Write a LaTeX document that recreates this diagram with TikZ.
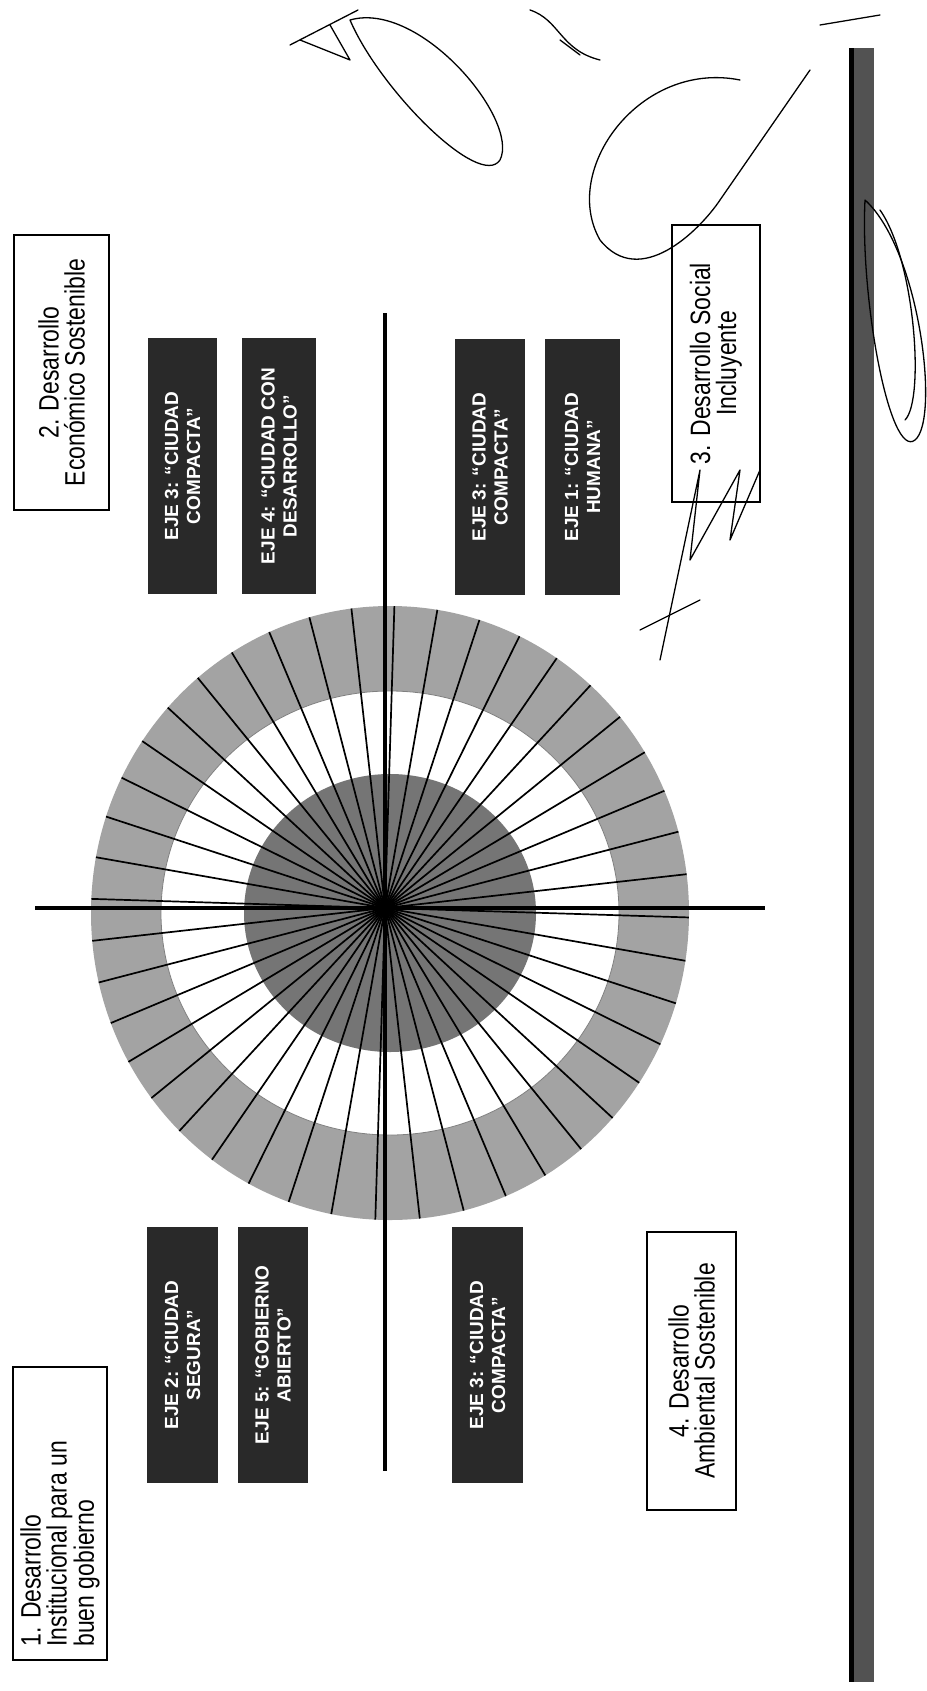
\documentclass[tikz,border=0pt]{standalone}
\usepackage{fontspec}
\setmainfont{Liberation Sans}
\newfontfamily\narrowfont[FakeStretch=0.82]{Liberation Sans}
\definecolor{bandgray}{gray}{0.64}
\definecolor{innergray}{gray}{0.46}
\definecolor{ejegray}{gray}{0.16}
\definecolor{bargray}{gray}{0.32}
\newcommand\ejefont{\fontsize{19}{22}\selectfont\bfseries}
\newcommand\labfont{\narrowfont\fontsize{28}{26}\selectfont}
\tikzset{
  ejebox/.style={rotate=90, fill=ejegray, text=white, minimum width=256, minimum height=71, inner sep=0pt, align=center, font=\ejefont},
  labbox/.style={rotate=90, draw=black, line width=1.6pt, fill=white, inner sep=0pt},
  labtext/.style={rotate=90, inner sep=0pt, font=\labfont},
  axisline/.style={line width=3.5pt, black},
  spoke/.style={line width=1.7pt, black},
  sig/.style={line width=1.3pt, black, line cap=round, line join=round},
}
\begin{document}
\begin{tikzpicture}[x=1pt,y=-1pt]
\useasboundingbox[fill=white] (0,0) rectangle (926,1691);
\coordinate (C) at (390,913);
\coordinate (X) at (385,908);
% rings
\fill[bandgray] (C) ellipse [x radius=299, y radius=307];
\fill[white] (C) ellipse [x radius=229, y radius=222];
\draw[gray, line width=0.8pt] (C) ellipse [x radius=229, y radius=222];
\fill[innergray] (C) ellipse [x radius=146, y radius=139];
\begin{scope}
  \clip (C) ellipse [x radius=299, y radius=307];
  \foreach \k in {0,...,43} \draw[spoke] (X) -- ++({-(6.4+\k*360/44)}:340);
\end{scope}
\fill (X) circle (6);
% axes
\coordinate (hl) at (35,908);  \coordinate (hr) at (765,908);
\coordinate (vt) at (385,313); \coordinate (vb) at (385,1471);
\draw[axisline] (hl) -- (hr);
\draw[axisline] (vt) -- (vb);
% EJE boxes
\node[ejebox, minimum height=69] (e3a) at (182.5,466) {EJE 3: “CIUDAD\\COMPACTA”};
\node[ejebox, minimum height=74] (e4) at (279,466) {EJE 4: “CIUDAD CON\\DESARROLLO”};
\node[ejebox, minimum height=70] (e3b) at (490,467) {EJE 3: “CIUDAD\\COMPACTA”};
\node[ejebox, minimum height=75] (e1) at (582.5,467) {EJE 1: “CIUDAD\\HUMANA”};
\node[ejebox, minimum height=71] (e2) at (182.5,1355) {EJE 2: “CIUDAD\\SEGURA”};
\node[ejebox, minimum height=70] (e5) at (273,1355) {EJE 5: “GOBIERNO\\ABIERTO”};
\node[ejebox, minimum height=71] (e3c) at (487.5,1355) {EJE 3: “CIUDAD\\COMPACTA”};
% label boxes
\node[labbox, minimum width=275, minimum height=95] (b2) at (61.5,372.5) {};
\node[labtext, align=center] at (b2.center) {2. Desarrollo\\Económico Sostenible};
\node[labbox, minimum width=277, minimum height=88] (b3) at (716,363.5) {};
\node[labtext, align=center] at (b3.center) {3. Desarrollo Social\\Incluyente};
\node[labbox, minimum width=278, minimum height=89] (b4) at (691.5,1371) {};
\node[labtext, align=center] at (b4.center) {4. Desarrollo\\Ambiental Sostenible};
\node[labbox, minimum width=293, minimum height=94] (b1) at (60,1513.5) {};
\node[labtext, align=left, anchor=west] at ([yshift=14pt]b1.west) {1. Desarrollo\\Institucional para un\\buen gobierno};
% right bar
\fill[bargray] (849,48) rectangle (874,1682);
\fill[black] (849,48) rectangle (854,1682);
% signatures (approximate)
\draw[sig] (290,45) -- (358,10);
\draw[sig] (300,40) -- (350,60) -- (330,25);
\draw[sig] (350,20) .. controls (420,0) and (520,120) .. (500,160) .. controls (480,190) and (380,90) .. (350,20);
\draw[sig] (530,10) .. controls (560,20) and (560,50) .. (600,60);
\draw[sig] (560,40) -- (580,55);
\draw[sig] (740,80) .. controls (640,60) and (560,170) .. (600,240) .. controls (640,290) and (700,230) .. (720,200) -- (810,70);
\draw[sig] (820,25) -- (880,15);
\draw[sig] (865,200) .. controls (920,250) and (940,420) .. (915,440) .. controls (890,460) and (860,300) .. (865,200);
\draw[sig] (880,210) .. controls (915,260) and (925,400) .. (905,420);
\draw[sig] (660,660) -- (700,470) -- (690,560) -- (740,470) -- (730,540) -- (760,470);
\draw[sig] (640,630) -- (700,600);
\end{tikzpicture}
\end{document}
